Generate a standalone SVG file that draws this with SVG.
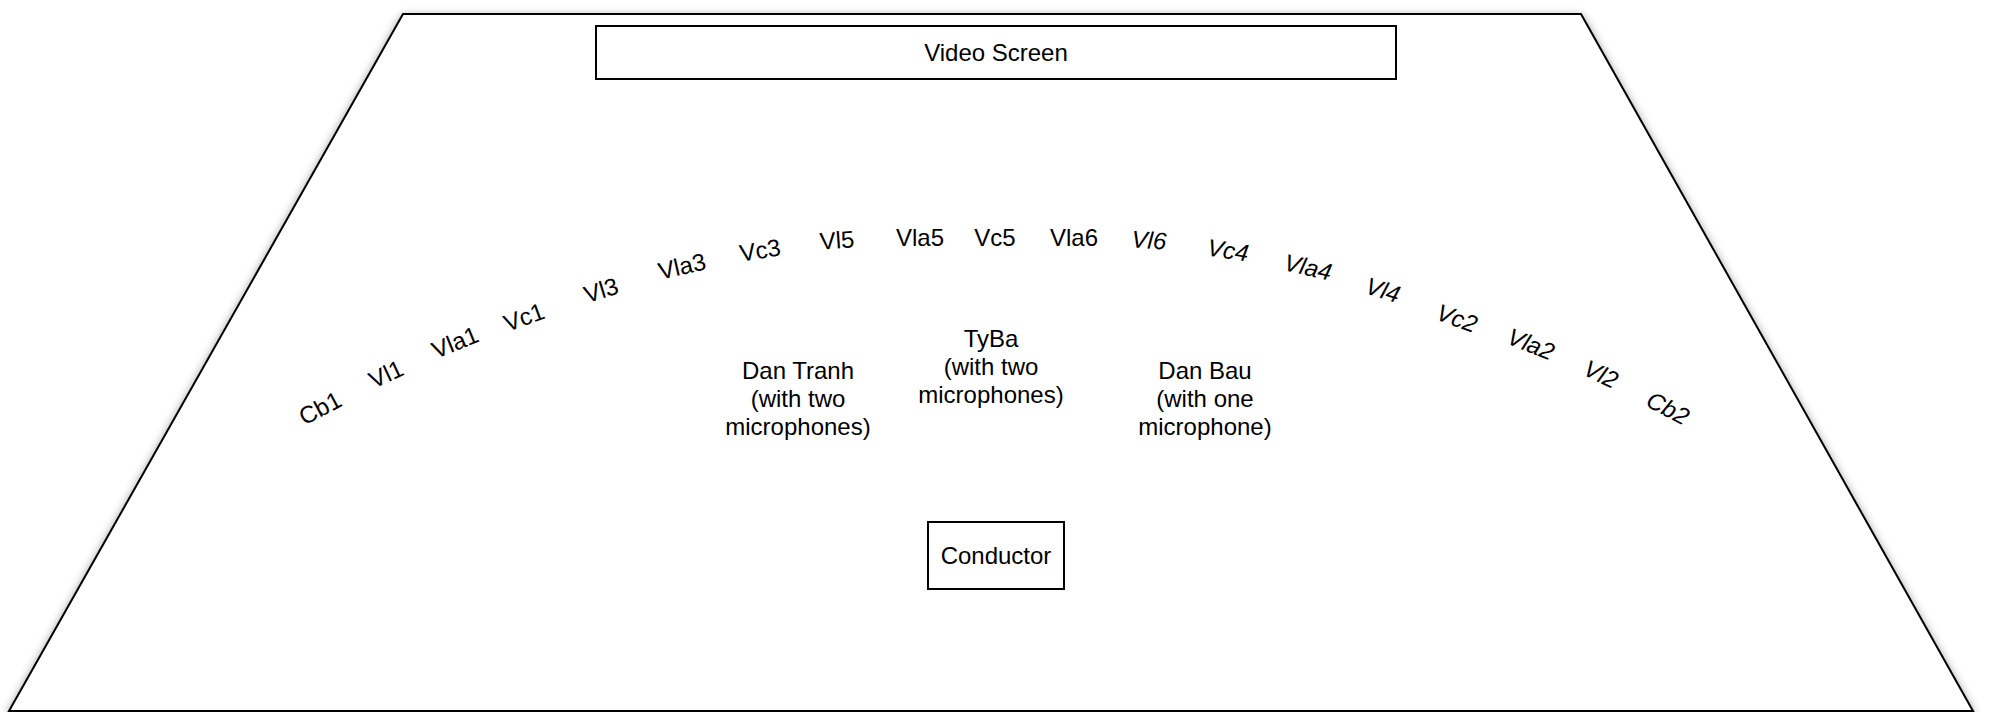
<svg xmlns="http://www.w3.org/2000/svg" width="1989" height="712" viewBox="0 0 1989 712">
<style>
  .box { fill: #ffffff; stroke: #000000; stroke-width: 2; }
  .t { font-family: "Liberation Sans", Arial, sans-serif; font-size: 24px; fill: #000000; text-anchor: middle; }
  .arc { dominant-baseline: central; }
  .it { font-style: italic; }
</style>
<defs>
  <filter id="shadow" x="-5%" y="-5%" width="110%" height="110%">
    <feDropShadow dx="0" dy="3" stdDeviation="5" flood-color="#000000" flood-opacity="0.45"/>
  </filter>
</defs>
<rect width="1989" height="712" fill="#ffffff"/>
<g id="stage">
  <polygon class="box" points="403,14 1581,14 1973,711 9,711" filter="url(#shadow)"/>
</g>
<g id="connectors"></g>
<g id="video-screen">
  <rect class="box" x="596" y="26" width="800" height="53"/>
  <text class="t" x="996" y="61">Video Screen</text>
</g>
<g id="conductor">
  <rect class="box" x="928" y="522" width="136" height="67"/>
  <text class="t" x="996" y="564">Conductor</text>
</g>
<g id="dan-tranh">
  <text class="t" x="798" y="379"><tspan x="798" y="379">Dan Tranh</tspan><tspan x="798" y="407">(with two</tspan><tspan x="798" y="435">microphones)</tspan></text>
</g>
<g id="tyba">
  <text class="t" x="991" y="347"><tspan x="991" y="347">TyBa</tspan><tspan x="991" y="375">(with two</tspan><tspan x="991" y="403">microphones)</tspan></text>
</g>
<g id="dan-bau">
  <text class="t" x="1205" y="379"><tspan x="1205" y="379">Dan Bau</tspan><tspan x="1205" y="407">(with one</tspan><tspan x="1205" y="435">microphone)</tspan></text>
</g>
<g id="cb1"><text class="t arc" x="320" y="408" transform="rotate(-28 320 408)">Cb1</text></g>
<g id="vl1"><text class="t arc" x="386" y="374" transform="rotate(-25 386 374)">Vl1</text></g>
<g id="vla1"><text class="t arc" x="455" y="342" transform="rotate(-22 455 342)">Vla1</text></g>
<g id="vc1"><text class="t arc" x="524" y="317" transform="rotate(-20 524 317)">Vc1</text></g>
<g id="vl3"><text class="t arc" x="601" y="290" transform="rotate(-17 601 290)">Vl3</text></g>
<g id="vla3"><text class="t arc" x="682" y="266" transform="rotate(-13 682 266)">Vla3</text></g>
<g id="vc3"><text class="t arc" x="760" y="250" transform="rotate(-9 760 250)">Vc3</text></g>
<g id="vl5"><text class="t arc" x="837" y="240" transform="rotate(-4 837 240)">Vl5</text></g>
<g id="vla5"><text class="t arc" x="920" y="237">Vla5</text></g>
<g id="vc5"><text class="t arc" x="995" y="237">Vc5</text></g>
<g id="vla6"><text class="t arc" x="1074" y="237">Vla6</text></g>
<g id="vl6"><text class="t arc it" x="1149" y="240" transform="rotate(4 1149 240)">Vl6</text></g>
<g id="vc4"><text class="t arc it" x="1228" y="250" transform="rotate(9 1228 250)">Vc4</text></g>
<g id="vla4"><text class="t arc it" x="1308" y="267" transform="rotate(13 1308 267)">Vla4</text></g>
<g id="vl4"><text class="t arc it" x="1383" y="290" transform="rotate(17 1383 290)">Vl4</text></g>
<g id="vc2"><text class="t arc it" x="1457" y="318" transform="rotate(20 1457 318)">Vc2</text></g>
<g id="vla2"><text class="t arc it" x="1531" y="344" transform="rotate(22 1531 344)">Vla2</text></g>
<g id="vl2"><text class="t arc it" x="1601" y="374" transform="rotate(25 1601 374)">Vl2</text></g>
<g id="cb2"><text class="t arc it" x="1668" y="408" transform="rotate(28 1668 408)">Cb2</text></g>
</svg>
